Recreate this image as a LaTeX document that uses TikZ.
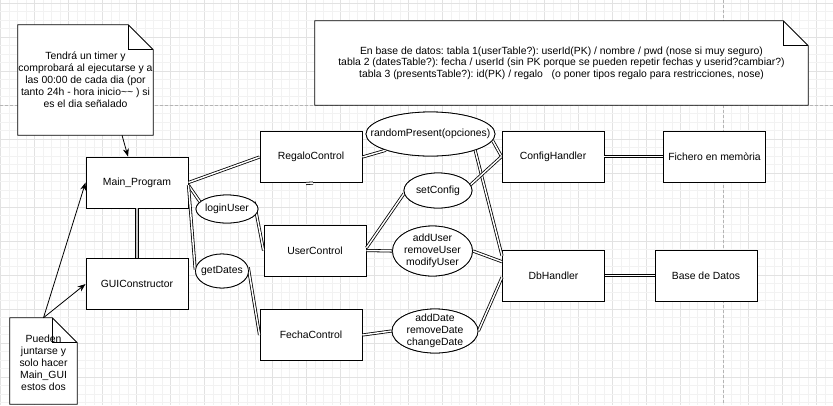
\documentclass[tikz,border=0pt]{standalone}
\usepackage{fontspec}
\setmainfont{Liberation Sans}
\usetikzlibrary{shapes.geometric,arrows.meta,calc}
\definecolor{gridminor}{HTML}{F2F2F2}
\definecolor{gridmajor}{HTML}{E2E2E2}
\definecolor{pagedash}{HTML}{B4B4B4}
\frenchspacing
\begin{document}
\begin{tikzpicture}[x=0.75pt,y=-0.75pt,
  every node/.style={font=\fontsize{7.8}{9}\selectfont, text=black},
  box/.style={draw=black, line width=0.7pt, fill=white, rectangle, minimum width=76.5pt, minimum height=38.25pt, inner sep=0pt},
  oval/.style={draw=black, line width=0.6pt, fill=white, ellipse, inner sep=0pt},
  lbl/.style={align=center, inner sep=0pt},
  notebox/.style={rectangle, inner sep=0pt, align=center},
  noteline/.style={draw=black, line width=0.7pt, fill=white},
  dbl/.style={draw=black, double=white, double distance=1.1pt, line width=0.6pt},
  arr/.style={draw=black, line width=0.6pt, -{Stealth[length=6pt,width=4.5pt]}}
]
\useasboundingbox (0,0) rectangle (833,405);
\fill[white] (0,0) rectangle (833,405);
% grid
\foreach \i in {0,...,97} {
  \pgfmathsetmacro\xx{0.7+8.5*\i}
  \pgfmathtruncatemacro\mm{mod(\i,4)}
  \ifnum\mm=0 \draw[gridmajor, line width=0.6pt] (\xx,0) -- (\xx,405);
  \else \draw[gridminor, line width=0.6pt] (\xx,0) -- (\xx,405); \fi
}
\foreach \j in {0,...,47} {
  \pgfmathsetmacro\yy{3.3+8.5*\j}
  \pgfmathtruncatemacro\mm{mod(\j,4)}
  \ifnum\mm=0 \draw[gridmajor, line width=0.6pt] (0,\yy) -- (833,\yy);
  \else \draw[gridminor, line width=0.6pt] (0,\yy) -- (833,\yy); \fi
}
\draw[pagedash, line width=0.75pt, dash pattern=on 2.25pt off 1.5pt] (0,105.3) -- (833,105.3);
\draw[pagedash, line width=0.75pt, dash pattern=on 2.25pt off 1.5pt] (723.3,0) -- (723.3,405);

% notes (outline drawn from the named node anchors)
\node[notebox, minimum width=101.25pt, minimum height=82.5pt] (n1) at (85.5,80) {};
\draw[noteline] (n1.north west) -- ([xshift=-18.75pt]n1.north east) -- ([yshift=-18.75pt]n1.north east) -- (n1.south east) -- (n1.south west) -- cycle;
\draw[line width=0.6pt] ([xshift=-18.75pt]n1.north east) |- ([yshift=-18.75pt]n1.north east);
\node[lbl] at (n1.center) {Tendrá un timer y\\comprobará al ejecutarse y a\\las 00:00 de cada dia (por\\tanto 24h - hora inicio\string~\string~\ ) si\\es el dia señalado};

\node[notebox, minimum width=50.25pt, minimum height=64.5pt] (n2) at (43.5,361) {};
\draw[noteline] (n2.north west) -- ([xshift=-18.75pt]n2.north east) -- ([yshift=-18.75pt]n2.north east) -- (n2.south east) -- (n2.south west) -- cycle;
\draw[line width=0.6pt] ([xshift=-18.75pt]n2.north east) |- ([yshift=-18.75pt]n2.north east);
\node[lbl] at ([yshift=-1pt]n2.center) {Pueden\\juntarse y\\solo hacer\\Main\_GUI\\estos dos};

\node[notebox, minimum width=369.75pt, minimum height=63pt] (n3) at (561.5,63) {};
\draw[noteline] (n3.north west) -- ([xshift=-18.75pt]n3.north east) -- ([yshift=-18.75pt]n3.north east) -- (n3.south east) -- (n3.south west) -- cycle;
\draw[line width=0.6pt] ([xshift=-18.75pt]n3.north east) |- ([yshift=-18.75pt]n3.north east);
\node[lbl, font=\fontsize{7.8}{8.5}\selectfont] at (n3.center) {En base de datos: tabla 1(userTable?): userId(PK) / nombre / pwd (nose si muy seguro)\\tabla 2 (datesTable?): fecha / userId (sin PK porque se pueden repetir fechas y userid?cambiar?)\\tabla 3 (presentsTable?): id(PK) / regalo \ \ (o poner tipos regalo para restricciones, nose)};

% boxes
\node[box] (main) at (137,182.5) {Main\_Program};
\node[box] (gui) at (137,284) {GUIConstructor};
\node[box] (regalo) at (311,157) {RegaloControl};
\node[box] (user) at (315,250.5) {UserControl};
\node[box] (fecha) at (311,335) {FechaControl};
\node[box] (config) at (553,156.5) {ConfigHandler};
\node[box] (fichero) at (714.5,156.5) {Fichero en memòria};
\node[box] (db) at (553.5,275.5) {DbHandler};
\node[box] (base) at (706,275.5) {Base de Datos};

% ovals (named, used as connector ends)
\node[oval, minimum width=46.5pt, minimum height=21pt] (login) at (227,209) {};
\node[oval, minimum width=39.75pt, minimum height=25.5pt] (getdates) at (222,271) {};
\node[oval, minimum width=96.75pt, minimum height=33pt] (rp) at (430.5,134) {};
\node[oval, minimum width=51pt, minimum height=26.25pt] (setcfg) at (438,190.5) {};
\node[oval, minimum width=60pt, minimum height=37.5pt] (adduser) at (432.5,251) {};
\node[oval, minimum width=64.5pt, minimum height=33pt] (adddate) at (435,331) {};

% connectors
\draw[dbl, double=gray!45] (main.south) -- (gui.north);
\draw[dbl] (main.east) -- (regalo.west);
\draw[dbl] (main.-3) -- (login.165);
\draw[dbl] (main.-3) -- (getdates.177);
\draw[dbl] (login.15) -- (user.west);
\draw[dbl] (getdates.8) -- (fecha.west);
\draw[dbl] (regalo.east) -- (rp.200);
\draw[dbl] (rp.-6) -- (config.west);
\draw[dbl] (rp.-20) -- (db.159);
\draw[dbl] (setcfg.10) -- (config.west);
\draw[dbl] (user.3) -- (setcfg.185);
\draw[dbl] (user.east) -- (adduser.west);
\draw[dbl] (adduser.east) -- (db.165);
\draw[dbl] (fecha.east) -- (adddate.west);
\draw[dbl] (adddate.east) -- (db.182);
\draw[dbl] (config.east) -- (fichero.west);
\draw[dbl] (db.east) -- (base.west);

% ovals redrawn on top with their labels
\node[oval, minimum width=46.5pt, minimum height=21pt, label={[lbl]center:loginUser}] at (login) {};
\node[oval, minimum width=39.75pt, minimum height=25.5pt, label={[lbl]center:getDates}] at (getdates) {};
\node[oval, minimum width=96.75pt, minimum height=33pt, label={[lbl]center:randomPresent(opciones)}] at (rp) {};
\node[oval, minimum width=51pt, minimum height=26.25pt, label={[lbl]center:setConfig}] at (setcfg) {};
\node[oval, minimum width=60pt, minimum height=37.5pt, label={[lbl]center:{addUser\\removeUser\\modifyUser}}] at (adduser) {};
\node[oval, minimum width=64.5pt, minimum height=33pt, label={[lbl]center:{addDate\\removeDate\\changeDate}}] at (adddate) {};

% small stub under RegaloControl
\coordinate (stubA) at (306,183.5);
\coordinate (stubB) at (313,183);
\draw[dbl] (stubA) -- (stubB);

% arrows from notes
\draw[arr] ([xshift=27.4pt]n1.south) -- ([xshift=-6.75pt]main.north);
\draw[arr] (n2.north) -- (main.west);
\draw[arr] (n2.north) -- (gui.west);
\end{tikzpicture}
\end{document}
